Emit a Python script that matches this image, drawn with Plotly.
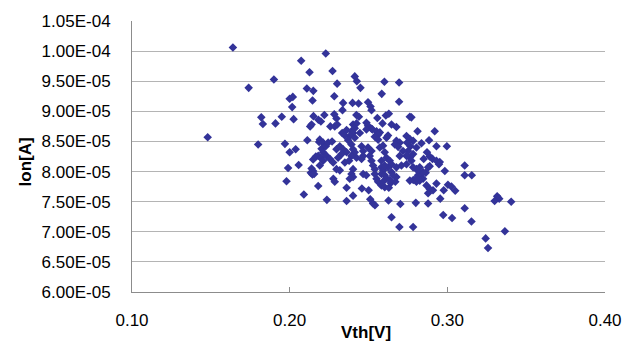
import plotly.graph_objects as go

# Vth [V]
vth = [
0.148,0.164,0.174,0.180,0.182,0.183,0.190,0.191,0.195,0.197,0.198,0.199,0.200,0.202,0.200,0.2016,0.2025,0.2038,0.2057,0.2073,
0.2090,0.2109,0.2112,0.2126,0.2130,0.2139,0.2145,0.2150,0.2151,0.2139,0.2149,0.2134,0.2144,0.2155,0.2149,0.2166,0.2181,0.2182,0.2198,0.2187,
0.2181,0.2202,0.2212,0.2198,0.2212,0.2191,0.2220,0.2229,0.2272,0.2301,0.2283,0.2339,0.2335,0.2399,0.2437,0.2413,0.2426,0.2449,0.2497,0.2513,
0.2519,0.2601,0.2584,0.2694,0.2694,0.2283,0.2297,0.2258,0.2286,0.2302,0.2423,0.2439,0.2487,0.2497,0.2519,0.2556,0.2610,0.2629,0.2589,0.2646,
0.2677,0.2762,0.2772,0.2811,0.2920,0.2402,0.2424,0.2333,0.2361,0.2392,0.2402,0.2413,0.2381,0.2350,0.2371,0.2445,0.2413,0.2487,0.2525,0.2551,
0.2572,0.2561,0.2540,0.2561,0.2614,0.2624,0.2677,0.2698,0.2667,0.2688,0.2741,0.2762,0.2745,0.2783,0.2766,0.2751,0.2783,0.2762,0.2772,0.2836,
0.2884,0.2931,0.2997,0.2871,0.2850,0.2888,0.2906,0.2931,0.2952,0.2947,0.2888,0.2191,0.2212,0.2229,0.2244,0.2269,0.2234,0.2255,0.2276,0.2297,
0.2318,0.2339,0.2361,0.2329,0.2307,0.2392,0.2402,0.2413,0.2424,0.2392,0.2377,0.2456,0.2466,0.2466,0.2456,0.2497,0.2519,0.2508,0.2519,0.2529,
0.2540,0.2572,0.2603,0.2614,0.2635,0.2646,0.2582,0.2582,0.2593,0.2582,0.2603,0.2614,0.2624,0.2646,0.2677,0.2709,0.2741,0.2698,0.2804,0.2825,
0.2836,0.2814,0.2846,0.2825,0.2878,0.2863,0.2984,0.2762,0.2804,0.2868,0.2888,0.2878,0.2931,0.2977,0.3004,0.3026,0.3050,0.2909,0.2955,0.2277,
0.2286,0.2297,0.2318,0.2350,0.2402,0.2392,0.2402,0.2381,0.2361,0.2402,0.2361,0.2458,0.2501,0.2511,0.2529,0.2541,0.2466,0.2486,0.2540,0.2551,
0.2561,0.2582,0.2603,0.2629,0.2641,0.2670,0.2677,0.2236,0.2627,0.2702,0.2800,0.2878,0.2646,0.2696,0.2783,0.2974,0.3030,0.3110,0.3153,0.3110,
0.3155,0.3110,0.3243,0.3258,0.3365,0.3316,0.3329,0.3300,0.3405,0.2592,0.2719,0.2741,0.2783,0.2804,0.2603,0.2656,0.2635,0.2592,0.2784,0.2804,
0.2846,0.2814,
]

# Ion [A], in units of 1e-5 A
ion_e5 = [
8.57,10.06,9.39,8.45,8.90,8.79,9.53,8.80,8.91,8.46,7.84,8.06,9.21,9.24,8.32,9.07,8.87,8.37,8.11,9.84,
7.62,9.38,8.52,9.65,8.75,8.78,9.18,9.34,8.92,8.05,8.01,7.98,7.95,7.96,8.20,8.25,7.76,8.86,8.83,8.49,
8.26,8.38,8.32,8.23,8.18,8.10,8.94,9.96,9.67,9.46,9.25,9.14,9.02,9.14,9.13,9.58,9.50,9.39,9.15,9.08,
9.02,9.49,9.29,9.48,9.16,8.95,8.88,8.75,8.75,8.78,8.94,8.91,8.81,8.76,8.71,8.89,8.93,8.96,8.80,8.78,
8.74,8.91,8.90,8.67,8.67,8.78,8.80,8.64,8.69,8.67,8.64,8.72,8.59,8.60,8.52,8.64,8.56,8.70,8.70,8.67,
8.65,8.61,8.58,8.53,8.56,8.60,8.51,8.48,8.45,8.41,8.59,8.54,8.48,8.51,8.42,8.34,8.29,8.23,8.18,8.47,
8.52,8.42,8.42,8.32,8.21,8.25,8.21,8.18,8.16,8.12,8.09,8.53,8.48,8.42,8.48,8.50,8.26,8.21,8.15,8.37,
8.42,8.37,8.32,8.29,8.23,8.45,8.37,8.32,8.23,8.26,8.18,8.42,8.34,8.26,8.21,8.40,8.34,8.26,8.18,8.10,
8.04,8.40,8.32,8.23,8.18,8.12,8.18,8.07,8.02,7.96,7.94,7.89,8.07,7.99,8.07,8.10,8.12,8.26,8.04,8.07,
7.96,7.94,7.88,7.85,8.07,7.98,8.01,7.85,7.83,7.77,7.71,7.64,7.80,7.69,7.78,7.75,7.68,7.69,7.55,7.88,
7.83,8.04,8.02,8.15,8.04,7.96,7.91,7.88,7.73,7.60,7.51,7.72,7.69,7.54,7.47,7.44,7.96,7.94,7.96,7.88,
7.83,7.77,7.74,7.73,7.81,7.83,7.91,7.53,7.52,7.46,7.48,7.47,7.24,7.08,7.08,7.28,7.23,7.39,7.17,7.94,
7.94,8.10,6.89,6.73,7.01,7.59,7.55,7.51,7.50,8.43,8.34,8.26,8.07,8.40,8.10,7.94,7.86,7.83,7.86,7.89,
7.99,8.02,
]

ion = [v * 1e-5 for v in ion_e5]

x_ticks = [0.10, 0.20, 0.30, 0.40]
x_tick_text = ["0.10", "0.20", "0.30", "0.40"]
y_ticks = [6.0e-5, 6.5e-5, 7.0e-5, 7.5e-5, 8.0e-5, 8.5e-5, 9.0e-5, 9.5e-5, 1.0e-4, 1.05e-4]
y_tick_text = ["6.00E-05", "6.50E-05", "7.00E-05", "7.50E-05", "8.00E-05",
               "8.50E-05", "9.00E-05", "9.50E-05", "1.00E-04", "1.05E-04"]

FONT = "Liberation Sans, Arial, sans-serif"
FS = 17

fig = go.Figure()
fig.add_trace(go.Scatter(
    x=vth, y=ion, mode="markers",
    marker=dict(symbol="diamond", size=6.6, color="#333399", line=dict(width=0)),
    showlegend=False,
))

fig.update_layout(
    width=636, height=347,
    margin=dict(l=132, r=31, t=16, b=55),
    paper_bgcolor="white", plot_bgcolor="white",
    font=dict(family=FONT, size=FS, color="black"),
    xaxis=dict(
        range=[0.10, 0.40], tickvals=x_ticks, ticktext=x_tick_text,
        showgrid=False, zeroline=False,
        showline=True, linecolor="#8c8c8c", linewidth=1,
        ticks="inside", ticklen=5, tickcolor="#8c8c8c",
        ticklabelstandoff=13,
    ),
    yaxis=dict(
        range=[6.0e-5, 1.05e-4], tickvals=y_ticks, ticktext=y_tick_text,
        showgrid=True, gridcolor="#b4b4b4", gridwidth=1, zeroline=False,
        showline=True, linecolor="#8c8c8c", linewidth=1,
        ticks="", ticklabelstandoff=17,
    ),
    annotations=[
        dict(text="<b>Vth[V]</b>", xref="paper", yref="paper",
             x=(366 - 132) / 473, y=(292 - 333) / 276,
             xanchor="center", yanchor="middle", showarrow=False,
             font=dict(family=FONT, size=FS, color="black")),
        dict(text="<b>Ion[A]</b>", xref="paper", yref="paper",
             x=(25 - 132) / 473, y=(292 - 160) / 276, textangle=-90,
             xanchor="center", yanchor="middle", showarrow=False,
             font=dict(family=FONT, size=FS, color="black")),
    ],
)

fig.write_html("out.html")
